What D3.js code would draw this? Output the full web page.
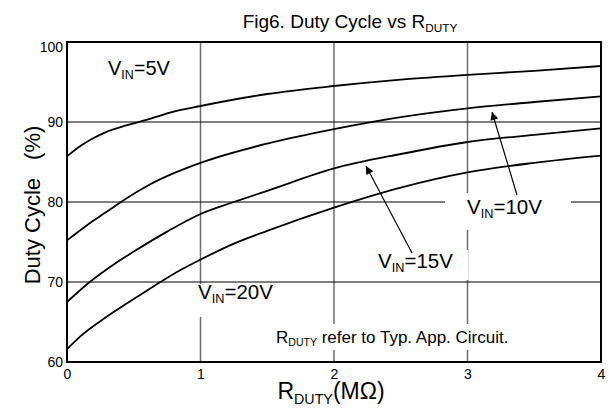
<!DOCTYPE html>
<html>
<head>
<meta charset="utf-8">
<script src="https://cdn.jsdelivr.net/npm/d3@7"></script>
<style>
  body { margin: 0; background: #fff; }
  text { font-family: "Liberation Sans", Arial, sans-serif; fill: #000; }
</style>
</head>
<body>
<div id="chart"></div>
<script>
// R_DUTY (MOhm) sample points and duty cycle (%)
var rVin5 = [0, 0.1, 0.2, 0.3, 0.45, 0.6, 0.8, 1, 1.5, 2, 2.5, 3, 3.5, 4];
var dVin5 = [85.7, 87.0, 88.0, 88.8, 89.6, 90.3, 91.3, 92.0, 93.5, 94.5, 95.3, 95.9, 96.4, 97.0];

var rVin10 = [0, 0.15, 0.3, 0.45, 0.6, 0.8, 1, 1.5, 2, 2.5, 3, 3.5, 4];
var dVin10 = [75.2, 77.1, 78.8, 80.5, 82.0, 83.6, 84.9, 87.3, 89.1, 90.6, 91.7, 92.5, 93.2];

var rVin15 = [0, 0.17, 0.35, 0.5, 0.75, 1, 1.25, 1.5, 2, 2.5, 3, 3.5, 4];
var dVin15 = [67.5, 70, 72.2, 73.8, 76.3, 78.5, 80, 81.4, 84.2, 86, 87.5, 88.4, 89.2];

var rVin20 = [0, 0.1, 0.25, 0.4, 0.55, 0.7, 0.85, 1, 1.25, 1.5, 2, 2.5, 3, 3.5, 4];
var dVin20 = [61.6, 63.2, 65.1, 66.8, 68.4, 70, 71.5, 72.8, 74.8, 76.4, 79.3, 81.8, 83.7, 84.9, 85.8];

var xTicks = [0, 1, 2, 3, 4];
var yTicks = [60, 70, 80, 90, 100];

var W = 609, H = 408;
var margin = { left: 67, right: 8, top: 42, bottom: 46 };

var svg = d3.select("#chart").append("svg")
  .attr("width", W).attr("height", H);

var xScale = d3.scaleLinear().domain([0, 4]).range([margin.left, W - margin.right]);
var yScale = d3.scaleLinear().domain([60, 100]).range([H - margin.bottom, margin.top]);

// grid
svg.append("g").selectAll("line").data(xTicks.slice(1, -1)).enter().append("line")
  .attr("x1", d => xScale(d)).attr("x2", d => xScale(d))
  .attr("y1", yScale(100)).attr("y2", yScale(60))
  .attr("stroke", "#6e6e6e").attr("stroke-width", 1.5);
svg.append("g").selectAll("line").data(yTicks.slice(1, -1)).enter().append("line")
  .attr("x1", xScale(0)).attr("x2", xScale(4))
  .attr("y1", d => yScale(d)).attr("y2", d => yScale(d))
  .attr("stroke", "#000").attr("stroke-width", 1.2);

// axes (labels only, frame drawn separately)
var xAxis = d3.axisBottom(xScale).tickValues(xTicks).tickFormat(d3.format("d")).tickSize(0).tickPadding(7);
var yAxis = d3.axisLeft(yScale).tickValues(yTicks).tickFormat(d3.format("d")).tickSize(0).tickPadding(4);
var gx = svg.append("g").attr("transform", "translate(0," + yScale(60) + ")").call(xAxis);
var gy = svg.append("g").attr("transform", "translate(" + xScale(0) + ",0)").call(yAxis);
[gx, gy].forEach(function (g) {
  g.select(".domain").remove();
  g.selectAll("text").attr("font-size", 14).attr("font-family", "Liberation Sans, Arial, sans-serif").attr("fill", "#000");
});
gy.selectAll("text").filter(d => d === 100).attr("dy", "0.7em");

// annotation labels with white boxes that cut the grid
function subLabel(x, y, main, sub, rest, fs, anchor) {
  var t = svg.append("text").attr("x", x).attr("y", y).attr("font-size", fs)
    .attr("text-anchor", anchor || "start");
  t.append("tspan").text(main);
  t.append("tspan").attr("font-size", fs * 0.62).attr("dy", fs * 0.2).text(sub);
  t.append("tspan").attr("dy", -fs * 0.2).text(rest);
  return t;
}
function box(x, y, w, h) {
  svg.append("rect").attr("x", x).attr("y", y).attr("width", w).attr("height", h).attr("fill", "#fff");
}
box(445, 193, 126, 37);
box(372, 250, 96, 30);
box(190, 284, 92, 33);
box(272, 324, 250, 26);

// curves
var line = d3.line().x(d => xScale(d[0])).y(d => yScale(d[1])).curve(d3.curveMonotoneX);
[[rVin5, dVin5], [rVin10, dVin10], [rVin15, dVin15], [rVin20, dVin20]].forEach(function (s) {
  svg.append("path").datum(d3.zip(s[0], s[1]))
    .attr("d", line).attr("fill", "none").attr("stroke", "#000").attr("stroke-width", 1.8);
});

// frame
svg.append("rect").attr("x", xScale(0)).attr("y", yScale(100))
  .attr("width", xScale(4) - xScale(0)).attr("height", yScale(60) - yScale(100))
  .attr("fill", "none").attr("stroke", "#000").attr("stroke-width", 2);

// arrows
svg.append("defs").append("marker").attr("id", "ah")
  .attr("viewBox", "0 0 10 10").attr("refX", 10).attr("refY", 5)
  .attr("markerWidth", 11).attr("markerHeight", 8).attr("markerUnits", "userSpaceOnUse")
  .attr("orient", "auto")
  .append("path").attr("d", "M0,0 L10,5 L0,10 Z").attr("fill", "#000");
function arrow(x1, y1, x2, y2) {
  svg.append("line").attr("x1", x1).attr("y1", y1).attr("x2", x2).attr("y2", y2)
    .attr("stroke", "#000").attr("stroke-width", 1.2).attr("marker-end", "url(#ah)");
}
arrow(517, 195, 492, 112);
arrow(412, 253, 366, 166);

// labels
subLabel(108, 75, "V", "IN", "=5V", 20);
subLabel(467, 214, "V", "IN", "=10V", 20.5);
subLabel(378, 268, "V", "IN", "=15V", 20.5);
subLabel(198, 299, "V", "IN", "=20V", 20.5);
subLabel(276, 343, "R", "DUTY", " refer to Typ. App. Circuit.", 17);

// title and axis titles
subLabel(350, 28, "Fig6. Duty Cycle vs R", "DUTY", "", 19, "middle");
subLabel(331, 399, "R", "DUTY", "(M\u03A9)", 23, "middle");
var yl = svg.append("text").attr("transform", "translate(40," + (yScale(80) + 3) + ") rotate(-90)")
  .attr("text-anchor", "middle").attr("font-size", 22);
yl.append("tspan").text("Duty Cycle");
yl.append("tspan").attr("dx", 18).text("(%)");
</script>
</body>
</html>
